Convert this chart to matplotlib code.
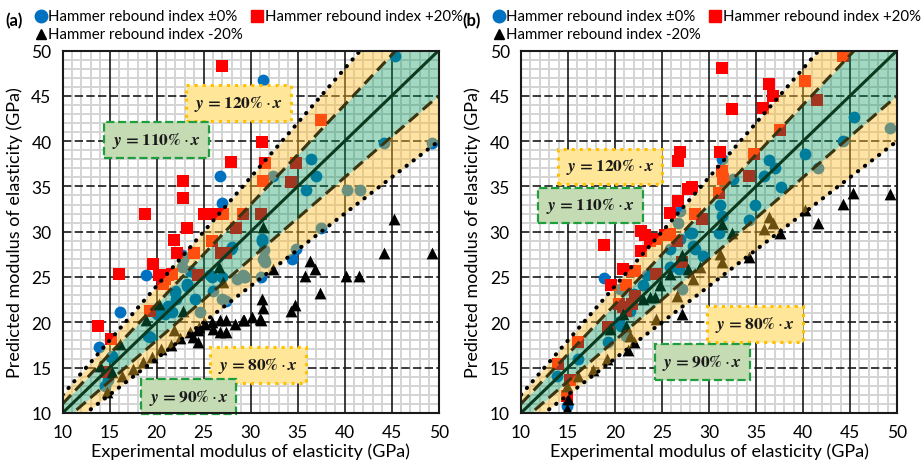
import numpy as np
import matplotlib
matplotlib.use("Agg")
import matplotlib.pyplot as plt

plt.rcParams['font.family'] = ['Lato', 'DejaVu Sans']
plt.rcParams['mathtext.fontset'] = 'stix'

# ---------------- data: panel (a) ----------------
a_zero_x = [31.3, 45.4, 36.4, 36.9, 35.9, 32.4, 44.2, 49.3, 40.2, 41.6, 37.5, 31.2, 31.4, 31.4,
            34.8, 34.4, 29.3, 31.1, 26.7, 27.0, 27.9, 18.9, 13.9, 16.1, 15.1, 14.8, 19.1, 20.0,
            20.9, 21.6, 21.2, 21.9, 22.1, 23.2, 24.1, 24.6, 25.9, 26.9, 28.5, 29.4, 26.0, 26.9,
            27.4, 31.5, 23.6, 22.7, 22.7, 21.9, 23.2, 25.7, 29.2, 31.3, 28.0, 31.2, 22.8, 15.2,
            14.5, 19.3]
a_zero_y = [46.75, 49.4, 38.0, 36.2, 34.6, 36.1, 39.8, 39.8, 34.6, 34.6, 30.4, 29.2, 28.0, 27.0,
            28.1, 27.0, 25.0, 25.0, 36.1, 33.2, 28.1, 25.2, 17.3, 21.1, 16.2, 13.6, 18.5, 20.9,
            20.9, 21.1, 21.8, 23.3, 22.6, 24.0, 22.6, 21.1, 25.0, 25.0, 24.8, 25.0, 23.5, 22.6,
            22.4, 26.6, 25.7, 27.4, 26.1, 23.5, 24.2, 25.2, 25.2, 27.0, 28.3, 29.0, 27.0, 16.3,
            13.0, 18.4]

a_plus_x = [26.9, 37.5, 31.2, 31.5, 31.3, 34.8, 34.3, 27.9, 22.8, 22.8, 18.8, 25.0, 26.3, 27.1,
            29.2, 31.1, 23.2, 28.4, 21.8, 22.2, 19.6, 16.0, 20.2, 20.9, 21.2, 24.0, 25.9, 26.8,
            27.4, 24.4, 20.7, 13.8, 15.1, 19.3, 14.7, 21.6]
a_plus_y = [48.3, 42.3, 39.9, 37.6, 35.6, 37.6, 35.5, 37.7, 35.6, 33.7, 32.0, 32.0, 32.0, 32.0,
            32.0, 32.0, 30.4, 30.4, 29.1, 27.7, 26.4, 25.3, 25.2, 24.8, 25.2, 27.7, 29.0, 27.7,
            27.7, 25.2, 24.2, 19.6, 18.2, 21.3, 14.5, 25.3]

a_minus_x = [31.3, 45.2, 44.2, 49.3, 36.3, 36.8, 35.8, 40.1, 41.5, 37.4, 32.4, 31.2, 31.3, 31.1,
             29.3, 34.7, 34.3, 26.6, 27.1, 18.9, 16.1, 14.0, 15.2, 22.8, 21.8, 14.7, 16.3, 17.5,
             18.5, 19.5, 20.5, 21.5, 22.5, 23.5, 24.5, 25.9, 26.7, 27.4, 26.0, 26.7, 27.4, 28.3,
             29.2, 30.1, 31.0, 24.4, 25.1, 23.9, 24.4, 20.2]
a_minus_y = [30.5, 31.4, 27.6, 27.6, 26.8, 25.9, 25.1, 25.1, 25.1, 23.2, 25.9, 22.6, 21.6, 20.2,
             20.2, 21.9, 21.3, 26.1, 24.4, 20.2, 17.6, 15.2, 14.5, 21.3, 19.1, 12.3, 14.1, 14.8,
             15.6, 16.2, 17.0, 17.5, 18.3, 18.9, 19.5, 20.0, 20.2, 20.2, 19.3, 18.9, 18.9, 19.8,
             20.2, 20.6, 20.4, 19.1, 19.8, 18.4, 17.8, 22.0]

# ---------------- data: panel (b) ----------------
b_zero_x = [45.4, 44.3, 49.3, 40.2, 41.6, 36.4, 37.0, 35.9, 37.7, 32.5, 31.4, 31.2, 34.9, 31.4,
            34.3, 31.1, 28.2, 28.3, 26.9, 26.7, 28.0, 25.9, 26.9, 28.5, 18.8, 29.4, 25.9, 26.8,
            23.0, 27.1, 23.4, 22.0, 21.6, 20.4, 20.6, 19.3, 16.1, 13.8, 14.9, 21.2, 20.5]
b_zero_y = [42.7, 40.0, 41.4, 38.6, 37.0, 37.9, 37.0, 36.2, 34.9, 35.8, 38.0, 33.0, 33.0, 31.7,
            31.3, 29.9, 29.9, 28.4, 32.3, 31.0, 29.9, 28.1, 29.2, 28.1, 24.9, 27.3, 26.1, 25.9,
            24.1, 23.7, 25.2, 23.1, 21.3, 20.0, 19.6, 17.8, 16.0, 14.1, 10.8, 18.5, 23.7]

b_plus_x = [31.4, 44.3, 36.4, 36.8, 40.2, 41.5, 32.4, 35.7, 37.5, 31.2, 31.4, 31.5, 31.1, 34.8,
            34.3, 28.2, 28.5, 29.3, 26.9, 26.7, 27.8, 26.7, 25.8, 18.8, 22.8, 23.2, 23.7, 24.4,
            25.3, 25.9, 26.6, 22.8, 20.9, 21.8, 22.1, 24.4, 19.6, 21.2, 22.1, 21.8, 20.4, 20.9,
            21.2, 19.3, 16.1, 13.9, 15.2, 14.9, 27.1]
b_plus_y = [48.1, 49.4, 46.3, 45.0, 46.6, 44.5, 43.5, 43.6, 41.2, 38.8, 36.7, 35.8, 34.3, 38.6,
            36.2, 34.9, 32.0, 31.4, 38.8, 37.8, 34.7, 33.4, 32.1, 28.5, 30.1, 29.6, 29.0, 29.2,
            29.6, 29.8, 29.0, 27.9, 25.9, 25.7, 25.7, 25.3, 24.1, 24.1, 22.9, 22.0, 22.0, 21.7,
            21.3, 19.5, 17.8, 15.4, 13.6, 11.9, 26.6]

b_minus_x = [45.3, 49.3, 44.3, 41.6, 40.2, 36.4, 36.8, 37.6, 31.4, 32.4, 35.8, 34.2, 27.1, 27.8,
             29.0, 25.9, 24.8, 23.7, 24.3, 23.0, 20.9, 21.2, 19.5, 27.1, 22.0, 21.4, 16.1, 15.0,
             14.9, 31.2, 31.4, 28.3, 26.6, 24.4, 21.6, 19.1, 17.7, 14.9]
b_minus_y = [34.3, 34.2, 33.1, 31.0, 32.4, 31.6, 31.0, 29.9, 30.8, 29.9, 30.3, 27.2, 27.4, 25.9,
             26.1, 25.3, 24.1, 22.8, 22.8, 22.6, 20.9, 19.6, 19.3, 20.9, 17.8, 16.9, 14.1, 11.5,
             10.4, 27.5, 26.6, 24.8, 22.9, 20.4, 18.5, 16.0, 14.7, 13.0]

ticks = [10, 15, 20, 25, 30, 35, 40, 45, 50]
ratios_inner = (0.9, 1.1)
ratios_outer = (0.8, 1.2)
series_labels = ['Hammer rebound index \u00b10%', 'Hammer rebound index +20%',
                 'Hammer rebound index -20%']

BLUE, RED, BLACK = '#0070C0', '#FF0000', '#000000'
GREEN_BAND, YELLOW_BAND = '#00965a', '#ffbe28'

W, H = 921, 464
fig = plt.figure(figsize=(W / 100, H / 100), dpi=100)
ax_a = fig.add_axes([0.068, 0.108, 0.4083, 0.781])
ax_b = fig.add_axes([0.5657, 0.108, 0.4083, 0.781])

# overlay in pixel units for the panel headers / legends
ov = fig.add_axes([0, 0, 1, 1], zorder=10)
ov.set_xlim(0, W)
ov.set_ylim(H, 0)
ov.axis('off')


def eq_box(ax, x, y, txt, kind):
    if kind == 'yellow':
        bb = dict(boxstyle='square,pad=0.45', fc='#ffe699', ec='#ffc000', ls=':', lw=2.2)
    else:
        bb = dict(boxstyle='square,pad=0.45', fc='#c5dbb4', ec='#1e9e3c', ls='--', lw=1.6)
    ax.text(x, y, txt, ha='center', va='center', fontsize=12.5, color='#1a1a1a',
            bbox=bb, zorder=6)


def draw_panel(ax, zx, zy, px, py, mx, my, boxes):
    ax.set_xlim(10, 50)
    ax.set_ylim(10, 50)
    # minor grid
    for v in range(11, 50):
        if v % 5:
            ax.axvline(v, color='#d4d4d4', lw=1.4, zorder=0.5)
            ax.axhline(v, color='#d4d4d4', lw=1.4, zorder=0.5)
    # major grid
    for v in ticks[1:-1]:
        ax.axvline(v, color='#1a1a1a', lw=1.2, zorder=0.6)
        ax.axhline(v, color='#1a1a1a', lw=1.2, ls=(0, (5, 2)), zorder=0.6)

    ax.scatter(zx, zy, s=72, marker='o', color=BLUE, lw=0, zorder=2)
    ax.scatter(px, py, s=74, marker='s', color=RED, lw=0, zorder=2)
    ax.scatter(mx, my, s=72, marker='^', color=BLACK, lw=0, zorder=2)

    xs = np.array([10.0, 50.0])
    ax.fill_between(xs, ratios_inner[0] * xs, ratios_inner[1] * xs,
                    color=GREEN_BAND, alpha=0.36, lw=0, zorder=3)
    ax.fill_between(xs, ratios_inner[1] * xs, ratios_outer[1] * xs,
                    color=YELLOW_BAND, alpha=0.42, lw=0, zorder=3)
    ax.fill_between(xs, ratios_outer[0] * xs, ratios_inner[0] * xs,
                    color=YELLOW_BAND, alpha=0.42, lw=0, zorder=3)

    ax.plot(xs, xs, color='#0b3a1e', lw=2.2, zorder=4)
    for r in ratios_inner:
        ax.plot(xs, r * xs, color='#3a3510', lw=2.2, ls=(0, (4, 2)), zorder=4)
    for r in ratios_outer:
        ax.plot(xs, r * xs, color='black', lw=2.9, ls=(0, (0.1, 2.1)),
                dash_capstyle='round', solid_capstyle='round', zorder=4)

    for (bx, by, t, k) in boxes:
        eq_box(ax, bx, by, t, k)

    ax.set_xticks(ticks)
    ax.set_yticks(ticks)
    ax.tick_params(length=0, labelsize=12.5, pad=8)
    for s in ax.spines.values():
        s.set_linewidth(1.5)
        s.set_color('#1a1a1a')
        s.set_zorder(7)
    ax.set_xlabel('Experimental modulus of elasticity (GPa)', fontsize=13, labelpad=2)
    ax.set_ylabel('Predicted modulus of elasticity (GPa)', fontsize=13, labelpad=6)


def header(ox, tag):
    fs = 10.8
    ov.text(ox + 14, 21, tag, fontsize=12, fontweight='bold', ha='center', va='center')
    ov.plot([ox + 41], [17], marker='o', color=BLUE, markersize=9, ls='none')
    ov.text(ox + 48, 17, series_labels[0], fontsize=fs, va='center')
    ov.plot([ox + 257], [17], marker='s', color=RED, markersize=8.5, ls='none')
    ov.text(ox + 265, 17, series_labels[1], fontsize=fs, va='center')
    ov.plot([ox + 41], [35], marker='^', color=BLACK, markersize=7.5, ls='none')
    ov.text(ox + 48, 35, series_labels[2], fontsize=fs, va='center')


t120 = r'$\boldsymbol{y}\,\mathbf{=120\%}\cdot\boldsymbol{x}$'
t110 = r'$\boldsymbol{y}\,\mathbf{=110\%}\cdot\boldsymbol{x}$'
t80 = r'$\boldsymbol{y}\,\mathbf{=80\%}\cdot\boldsymbol{x}$'
t90 = r'$\boldsymbol{y}\,\mathbf{=90\%}\cdot\boldsymbol{x}$'

draw_panel(ax_a, a_zero_x, a_zero_y, a_plus_x, a_plus_y, a_minus_x, a_minus_y,
           [(28.7, 44.2, t120, 'yellow'), (20.0, 40.1, t110, 'green'),
            (30.8, 15.3, t80, 'yellow'), (23.4, 11.8, t90, 'green')])
draw_panel(ax_b, b_zero_x, b_zero_y, b_plus_x, b_plus_y, b_minus_x, b_minus_y,
           [(19.5, 37.2, t120, 'yellow'), (17.4, 32.9, t110, 'green'),
            (34.9, 19.8, t80, 'yellow'), (29.3, 15.6, t90, 'green')])

header(0, '(a)')
header(458, '(b)')

fig.savefig('out.png', dpi=100, facecolor='white')
